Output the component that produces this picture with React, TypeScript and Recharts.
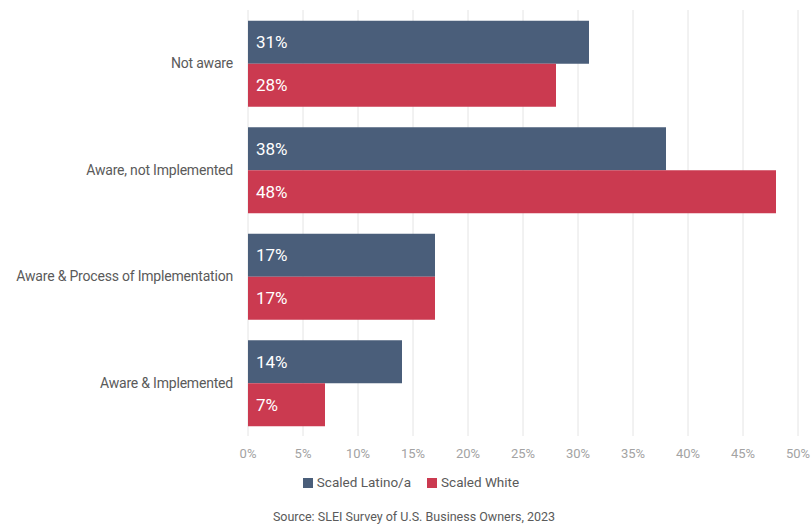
import React from 'react';
import { BarChart, Bar, XAxis, YAxis, CartesianGrid, Legend, LabelList } from 'recharts';

const categories = ['Not aware', 'Aware, not Implemented', 'Aware & Process of Implementation', 'Aware & Implemented'];
const latino = [31, 38, 17, 14];
const white = [28, 48, 17, 7];
const xTicks = [0, 5, 10, 15, 20, 25, 30, 35, 40, 45, 50];

const FONT = '"Roboto", "Liberation Sans", sans-serif';

const data = categories.map((name, i) => ({ name, latino: latino[i], white: white[i] }));

export default function App() {
  return (
    <div style={{ position: 'absolute', left: 0, top: 0, width: 812, height: 527, background: '#fff', fontFamily: FONT }}>
      <BarChart
        width={812}
        height={500}
        data={data}
        layout="vertical"
        margin={{ top: 10, right: 14, left: 0, bottom: 20 }}
        barCategoryGap="10%"
        barGap={0}
      >
        <CartesianGrid horizontal={false} stroke="#e4e4e4" />
        <XAxis
          type="number"
          domain={[0, 50]}
          ticks={xTicks}
          tickFormatter={(v) => `${v}%`}
          axisLine={false}
          tickLine={false}
          tick={{ fill: '#a3a3a3', fontSize: 13, fontFamily: FONT }}
          tickMargin={7}
          height={28}
        />
        <YAxis
          type="category"
          dataKey="name"
          width={248}
          axisLine={false}
          tickLine={false}
          tickMargin={9}
          tick={{ fill: '#5a5a5a', fontSize: 14, fontFamily: FONT, letterSpacing: -0.2 }}
        />
        <Legend
          iconType="square"
          iconSize={10}
          wrapperStyle={{ top: 474, left: 20, fontSize: 13.5, fontFamily: FONT }}
          formatter={(value) => <span style={{ color: '#5a5a5a', marginRight: 6 }}>{value}</span>}
        />
        <Bar dataKey="latino" name="Scaled Latino/a" fill="#4a5e7a" isAnimationActive={false}>
          <LabelList dataKey="latino" position="insideLeft" offset={8} formatter={(v: number) => `${v}%`} fill="#fff" fontSize={17} fontFamily={FONT} />
        </Bar>
        <Bar dataKey="white" name="Scaled White" fill="#cb3a50" isAnimationActive={false}>
          <LabelList dataKey="white" position="insideLeft" offset={8} formatter={(v: number) => `${v}%`} fill="#fff" fontSize={17} fontFamily={FONT} />
        </Bar>
      </BarChart>
      <div style={{ position: 'absolute', left: 0, width: 828, top: 509, textAlign: 'center', fontSize: 12.5, color: '#5a5a5a' }}>
        Source: SLEI Survey of U.S. Business Owners, 2023
      </div>
    </div>
  );
}
